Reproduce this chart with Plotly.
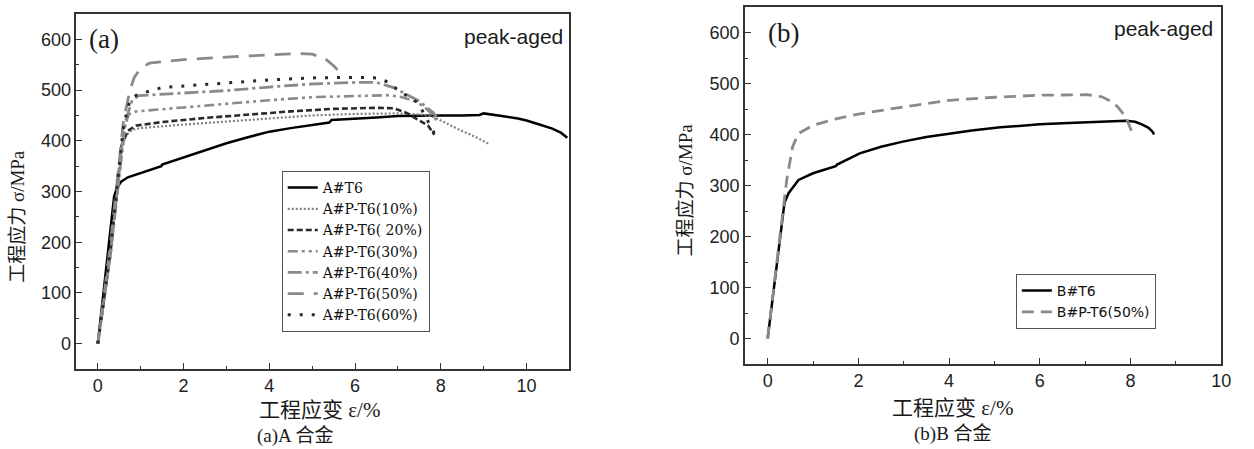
import plotly.graph_objects as go

W, H = 1254, 449

# ---------------- data: panel (a) ----------------
a_t6_x = [0, 0.2, 0.38, 0.45, 0.55, 0.7, 1.0, 1.48, 1.5, 2.0, 2.5, 3.0, 3.5, 4.0, 4.5, 5.0, 5.4, 5.45,
          6.0, 6.5, 7.0, 7.5, 8.0, 8.5, 8.9, 9.0, 9.2, 9.5, 9.8, 10.0, 10.3, 10.6, 10.8, 10.95]
a_t6_y = [0, 150, 290, 308, 320, 328, 337, 350, 353, 367, 381, 395, 407, 418, 425, 431, 436, 441,
          443, 446, 449, 450, 450, 450, 451, 454, 451, 448, 444, 440, 432, 424, 416, 406]

a_p10_x = [0, 0.3, 0.55, 0.65, 0.8, 1.0, 2.0, 3.0, 4.0, 5.0, 6.0, 7.0, 7.5, 7.8, 8.1, 8.4, 8.8, 9.12]
a_p10_y = [0, 180, 380, 410, 422, 425, 432, 438, 444, 450, 453, 454, 452, 448, 436, 423, 408, 394]

a_p20_x = [0, 0.3, 0.55, 0.7, 0.9, 1.5, 2.5, 3.5, 4.5, 5.5, 6.5, 6.9, 7.2, 7.5, 7.7, 7.85]
a_p20_y = [0, 180, 390, 420, 430, 437, 445, 452, 458, 463, 465, 464, 455, 440, 430, 412]

a_p30_x = [0, 0.3, 0.6, 0.72, 0.9, 2.0, 3.0, 4.0, 5.0, 6.0, 6.8, 7.1, 7.4, 7.6, 7.8, 7.9]
a_p30_y = [0, 180, 420, 452, 458, 466, 474, 480, 486, 489, 490, 486, 478, 468, 452, 440]

a_p40_x = [0, 0.3, 0.65, 0.8, 0.95, 2.0, 3.0, 4.0, 5.0, 6.0, 6.5, 6.9, 7.2, 7.5, 7.8, 7.9]
a_p40_y = [0, 180, 440, 480, 489, 494, 499, 506, 512, 515, 515, 505, 492, 478, 457, 448]

a_p50_x = [0, 0.3, 0.6, 0.75, 0.85, 1.0, 1.2, 2.0, 3.0, 4.0, 4.6, 5.0, 5.3, 5.5, 5.7]
a_p50_y = [0, 200, 440, 500, 525, 543, 553, 560, 565, 570, 572, 571, 562, 548, 530]

a_p60_x = [0, 0.3, 0.6, 0.75, 0.9, 1.0, 1.5, 2.0, 3.0, 4.0, 5.0, 6.0, 6.5, 6.8, 7.0, 7.2, 7.45, 7.6, 7.75, 7.85]
a_p60_y = [0, 190, 430, 480, 490, 493, 505, 508, 515, 520, 524, 525, 524, 515, 500, 490, 476, 455, 430, 414]

# ---------------- data: panel (b) ----------------
b_t6_x = [0, 0.2, 0.37, 0.46, 0.68, 1.0, 1.5, 1.53, 2.03, 2.5, 2.98, 3.5, 4.0, 4.5, 5.13, 5.5, 6.0, 6.5,
          7.04, 7.5, 7.9, 8.1, 8.25, 8.4, 8.49, 8.52]
b_t6_y = [0, 145, 266, 285, 311, 324, 338, 341, 363, 376, 386, 395, 402, 408, 414, 417, 420, 422,
          424, 425, 427, 425, 420, 413, 405, 400]

b_p50_x = [0, 0.2, 0.42, 0.55, 0.68, 1.0, 1.53, 2.0, 2.98, 4.0, 5.0, 6.0, 7.04, 7.37, 7.6, 7.72, 7.9, 8.03]
b_p50_y = [0, 150, 311, 376, 402, 418, 431, 440, 454, 467, 473, 477, 478, 474, 464, 454, 434, 405]

a_names = ["A#T6", "A#P-T6(10%)", "A#P-T6( 20%)", "A#P-T6(30%)", "A#P-T6(40%)", "A#P-T6(50%)", "A#P-T6(60%)"]
b_names = ["B#T6", "B#P-T6(50%)"]

x_ticks_a = [0, 2, 4, 6, 8, 10]
x_ticks_b = [0, 2, 4, 6, 8, 10]
y_ticks = [0, 100, 200, 300, 400, 500, 600]

# ---------------- styles ----------------
GREY = "#8a8a8a"
DARK = "#2a2a2a"
a_series = [
    (a_t6_x, a_t6_y, dict(color="black", width=2.5, dash="solid")),
    (a_p10_x, a_p10_y, dict(color="#808080", width=2.2, dash="2px,2px")),
    (a_p20_x, a_p20_y, dict(color=DARK, width=2.6, dash="6px,3px")),
    (a_p30_x, a_p30_y, dict(color=GREY, width=2.6, dash="10px,4px,3px,4px,3px,4px")),
    (a_p40_x, a_p40_y, dict(color=GREY, width=2.8, dash="14px,4px,3px,4px")),
    (a_p50_x, a_p50_y, dict(color=GREY, width=2.8, dash="16px,10px")),
    (a_p60_x, a_p60_y, dict(color=DARK, width=3, dash="3px,9px")),
]
b_series = [
    (b_t6_x, b_t6_y, dict(color="black", width=2.5, dash="solid")),
    (b_p50_x, b_p50_y, dict(color=GREY, width=2.8, dash="12px,7px")),
]

fig = go.Figure()
for (xs, ys, ln), nm in zip(a_series, a_names):
    fig.add_trace(go.Scatter(x=xs, y=ys, mode="lines", name=nm, line=ln,
                             xaxis="x", yaxis="y", legend="legend"))
for (xs, ys, ln), nm in zip(b_series, b_names):
    fig.add_trace(go.Scatter(x=xs, y=ys, mode="lines", name=nm, line=ln,
                             xaxis="x2", yaxis="y2", legend="legend2"))

def px(x):
    return x / W

def py(y):
    return 1 - y / H

TICKFONT = dict(family="Liberation Sans, Arial", size=18, color="#222")
axis_common = dict(showgrid=False, zeroline=False, showline=True, linecolor="#333", linewidth=1.6,
                   mirror=True, ticks="inside", ticklen=6, tickwidth=1.3, tickcolor="#333",
                   tickfont=TICKFONT)

fig.update_layout(
    width=W, height=H, margin=dict(l=0, r=0, t=0, b=0),
    paper_bgcolor="white", plot_bgcolor="white", showlegend=True,
    xaxis=dict(domain=[px(77), px(574)], range=[-0.5, 11], tickvals=x_ticks_a, anchor="y",
               minor=dict(dtick=1, ticks="inside", ticklen=3, tickcolor="#333"), **axis_common),
    yaxis=dict(domain=[py(369), py(14)], range=[-50, 650], tickvals=y_ticks, anchor="x",
               minor=dict(dtick=50, ticks="inside", ticklen=3, tickcolor="#333"), **axis_common),
    xaxis2=dict(domain=[px(751), px(1231)], range=[-0.5, 10], tickvals=x_ticks_b, anchor="y2",
                minor=dict(dtick=1, ticks="inside", ticklen=3, tickcolor="#333"), **axis_common),
    yaxis2=dict(domain=[py(364), py(7)], range=[-50, 650], tickvals=y_ticks, anchor="x2",
                minor=dict(dtick=50, ticks="inside", ticklen=3, tickcolor="#333"), **axis_common),
    legend=dict(x=px(284), y=py(171), xanchor="left", yanchor="top", bgcolor="white",
                bordercolor="#555", borderwidth=1,
                font=dict(family="DejaVu Serif, Liberation Serif", size=14, color="#111"),
                tracegroupgap=0),
    legend2=dict(x=px(1024), y=py(274), xanchor="left", yanchor="top", bgcolor="white",
                 bordercolor="#555", borderwidth=1,
                 font=dict(family="DejaVu Sans, Liberation Sans", size=14, color="#111"),
                 tracegroupgap=0),
)

SERIF_CJK = "Liberation Serif, Noto Sans CJK SC"
ann = []
def add_text(x, y, text, size, family, xanchor="center", yanchor="middle", angle=0, color="#1a1a1a"):
    ann.append(dict(x=px(x), y=py(y), xref="paper", yref="paper", text=text, showarrow=False,
                    xanchor=xanchor, yanchor=yanchor, textangle=angle,
                    font=dict(size=size, family=family, color=color)))

add_text(88, 39, "(a)", 27, "Liberation Serif", xanchor="left")
add_text(772, 33, "(b)", 27, "Liberation Serif", xanchor="left")
add_text(570, 37, "peak-aged", 21, "Liberation Sans", xanchor="right")
add_text(1225, 29, "peak-aged", 21, "Liberation Sans", xanchor="right")
add_text(17, 216, "工程应力 σ/MPa", 19, SERIF_CJK, angle=-90)
add_text(691, 190, "工程应力 σ/MPa", 19, SERIF_CJK, angle=-90)
add_text(322, 410, "工程应变 ε/%", 21, SERIF_CJK)
add_text(960, 408, "工程应变 ε/%", 21, SERIF_CJK)
add_text(298, 436, "(a)A 合金", 19, SERIF_CJK)
add_text(961, 434, "(b)B 合金", 19, SERIF_CJK)
fig.update_layout(annotations=ann)

fig.write_html("out.html", config={"displayModeBar": False},
               post_script="document.body.style.margin='0';document.body.style.overflow='hidden';")
